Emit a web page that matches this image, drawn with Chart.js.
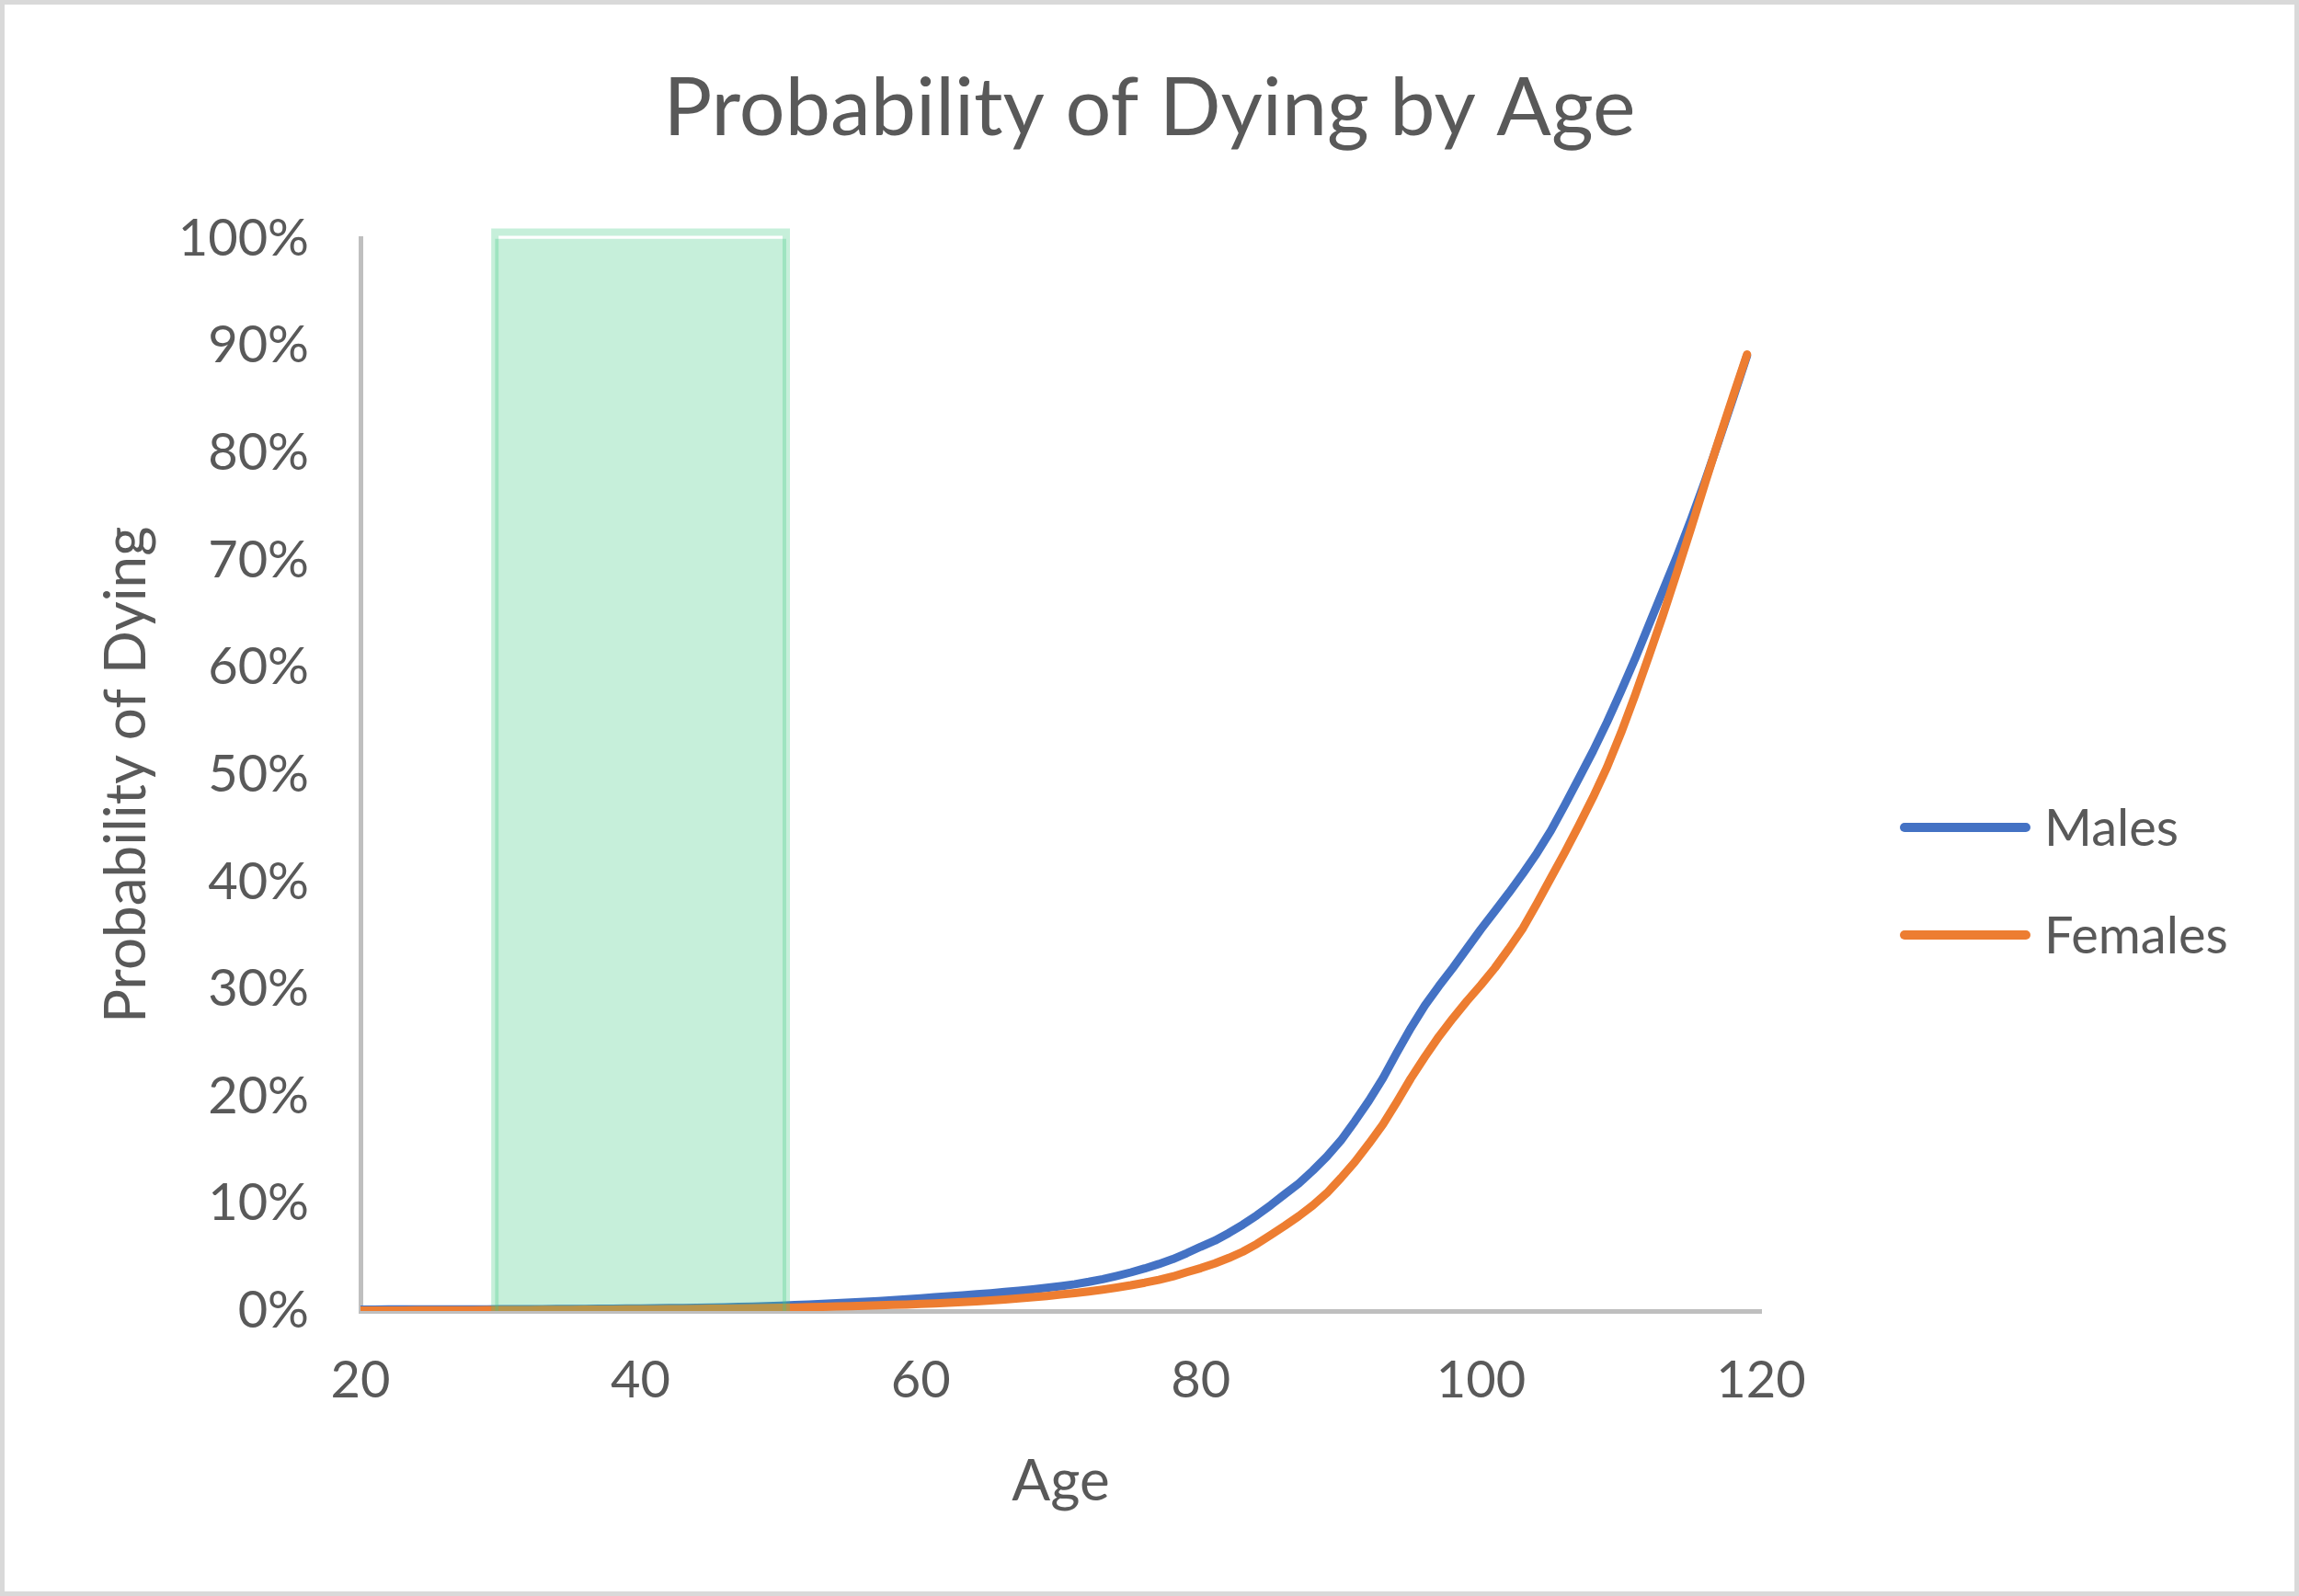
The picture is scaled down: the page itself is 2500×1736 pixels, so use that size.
<!DOCTYPE html>
<html>
<head>
<meta charset="utf-8">
<title>Probability of Dying by Age</title>
<script src="https://cdn.jsdelivr.net/npm/chart.js@4.4.1/dist/chart.umd.min.js"></script>
<style>
    html, body { margin: 0; padding: 0; background: #ffffff; }
    #chart { display: block; }
</style>
</head>
<body>
<canvas id="chart" width="2500" height="1736"></canvas>
<script>
/* ── Data (probability of dying within the year, %) ─────────────────── */
const ages = [
    20, 21, 22, 23, 24, 25, 26, 27, 28, 29,
    30, 31, 32, 33, 34, 35, 36, 37, 38, 39,
    40, 41, 42, 43, 44, 45, 46, 47, 48, 49,
    50, 51, 52, 53, 54, 55, 56, 57, 58, 59,
    60, 61, 62, 63, 64, 65, 66, 67, 68, 69,
    70, 71, 72, 73, 74, 75, 76, 77, 78, 79,
    80, 81, 82, 83, 84, 85, 86, 87, 88, 89,
    90, 91, 92, 93, 94, 95, 96, 97, 98, 99,
    100, 101, 102, 103, 104, 105, 106, 107, 108, 109,
    110, 111, 112, 113, 114, 115, 116, 117, 118, 119,
];

const males = [
    0.12, 0.13, 0.14, 0.14, 0.15, 0.15, 0.15, 0.16, 0.16, 0.16,
    0.17, 0.17, 0.18, 0.18, 0.19, 0.20, 0.20, 0.21, 0.22, 0.23,
    0.24, 0.25, 0.27, 0.28, 0.30, 0.32, 0.35, 0.38, 0.41, 0.45,
    0.50, 0.55, 0.60, 0.66, 0.72, 0.79, 0.86, 0.93, 1.01, 1.10,
    1.19, 1.28, 1.37, 1.46, 1.56, 1.66, 1.77, 1.89, 2.02, 2.16,
    2.32, 2.50, 2.72, 2.97, 3.27, 3.60, 3.97, 4.38, 4.84, 5.40,
    6.00, 6.56, 7.27, 8.05, 8.92, 9.88, 10.9, 11.9, 13.1, 14.4,
    15.9, 17.7, 19.6, 21.7, 24.1, 26.4, 28.5, 30.3, 32.0, 33.8,
    35.6, 37.3, 39.0, 40.8, 42.7, 44.8, 47.2, 49.7, 52.2, 54.9,
    57.8, 60.8, 64.0, 67.2, 70.4, 73.8, 77.4, 81.2, 85.1, 89.1,
];

const females = [
    0.05, 0.05, 0.05, 0.05, 0.06, 0.06, 0.06, 0.07, 0.07, 0.08,
    0.08, 0.09, 0.09, 0.10, 0.10, 0.11, 0.12, 0.12, 0.13, 0.14,
    0.15, 0.16, 0.17, 0.18, 0.19, 0.21, 0.22, 0.24, 0.26, 0.28,
    0.30, 0.33, 0.36, 0.39, 0.42, 0.46, 0.49, 0.53, 0.57, 0.61,
    0.66, 0.71, 0.77, 0.83, 0.90, 0.98, 1.07, 1.17, 1.28, 1.40,
    1.54, 1.68, 1.83, 2.00, 2.19, 2.40, 2.64, 2.91, 3.22, 3.62,
    4.00, 4.44, 4.95, 5.53, 6.25, 7.10, 7.95, 8.85, 9.85, 11.0,
    12.4, 13.9, 15.6, 17.4, 19.5, 21.7, 23.7, 25.6, 27.3, 28.9,
    30.4, 32.0, 33.8, 35.7, 38.0, 40.4, 42.8, 45.3, 47.9, 50.7,
    53.9, 57.4, 61.1, 64.9, 68.9, 73.0, 77.2, 81.3, 85.3, 89.2,
];

// highlighted age band (shaded box), outline corners
const bandAges = [29.6, 29.6, 50.4, 50.4];
const bandValues = [0, 100.6, 100.6, 0];

const xTicks = [20, 40, 60, 80, 100, 120];
const yTicks = [0, 10, 20, 30, 40, 50, 60, 70, 80, 90, 100];

/* ── Theme ───────────────────────────────────────────────────────────── */
const TEXT = '#595959';
const AXIS = '#bfbfbf';
Chart.defaults.font.family = "'Lato', 'Open Sans', sans-serif";
Chart.defaults.color = TEXT;

const toPoints = (xs, ys) => xs.map((x, i) => ({ x, y: ys[i] }));

/* ── Plugins ─────────────────────────────────────────────────────────── */
const frame = {
    id: 'frame',
    beforeDraw(chart) {
        const { ctx, width, height } = chart;
        ctx.save();
        ctx.fillStyle = '#ffffff';
        ctx.fillRect(0, 0, width, height);
        ctx.strokeStyle = '#d9d9d9';
        ctx.lineWidth = 5;
        ctx.strokeRect(2.5, 2.5, width - 5, height - 5);
        ctx.restore();
    },
};

// legend on the right: line swatch + label, for the two series only
const sideLegend = {
    id: 'sideLegend',
    afterDraw(chart) {
        const { ctx, chartArea } = chart;
        const items = chart.data.datasets.filter(d => d.inLegend);
        const x0 = chartArea.right + 151;
        const y0 = 900;
        ctx.save();
        ctx.font = "56px 'Lato', 'Open Sans', sans-serif";
        ctx.textBaseline = 'middle';
        ctx.lineCap = 'round';
        items.forEach((d, i) => {
            const y = y0 + i * 117;
            ctx.strokeStyle = d.borderColor;
            ctx.lineWidth = 10;
            ctx.beginPath();
            ctx.moveTo(x0 + 5, y);
            ctx.lineTo(x0 + 137, y);
            ctx.stroke();
            ctx.fillStyle = TEXT;
            ctx.fillText(d.label, x0 + 157, y + 2);
        });
        ctx.restore();
    },
};

/* ── Chart ───────────────────────────────────────────────────────────── */
new Chart(document.getElementById('chart'), {
    type: 'line',
    data: {
        datasets: [
            {
                label: 'Age band',
                data: toPoints(bandAges, bandValues),
                borderColor: 'rgba(65, 202, 132, 0.3)',
                backgroundColor: 'rgba(65, 202, 132, 0.3)',
                borderWidth: 8,
                fill: 'origin',
                pointRadius: 0,
                tension: 0,
                clip: false,
                order: 0,
            },
            {
                label: 'Males',
                inLegend: true,
                data: toPoints(ages, males),
                borderColor: '#4472c4',
                borderWidth: 9,
                borderCapStyle: 'round',
                borderJoinStyle: 'round',
                pointRadius: 0,
                tension: 0,
                order: 2,
            },
            {
                label: 'Females',
                inLegend: true,
                data: toPoints(ages, females),
                borderColor: '#ed7d31',
                borderWidth: 9,
                borderCapStyle: 'round',
                borderJoinStyle: 'round',
                pointRadius: 0,
                tension: 0,
                order: 1,
            },
        ],
    },
    options: {
        responsive: false,
        animation: false,
        devicePixelRatio: 1,
        layout: { padding: 0 },
        scales: {
            x: {
                type: 'linear',
                min: xTicks[0],
                max: xTicks[xTicks.length - 1],
                afterBuildTicks: axis => { axis.ticks = xTicks.map(v => ({ value: v })); },
                afterFit: axis => { axis.height = 310; },
                grid: { display: false, drawTicks: false },
                border: { display: true, color: AXIS, width: 5 },
                ticks: {
                    padding: 42,
                    color: TEXT,
                    font: { size: 56 },
                },
                title: {
                    display: true,
                    text: 'Age',
                    color: TEXT,
                    font: { size: 62 },
                    padding: { top: 0, bottom: 87 },
                },
            },
            y: {
                type: 'linear',
                min: yTicks[0],
                max: yTicks[yTicks.length - 1],
                afterBuildTicks: axis => { axis.ticks = yTicks.map(v => ({ value: v })); },
                afterFit: axis => { axis.width = 392; },
                grid: { display: false, drawTicks: false },
                border: { display: true, color: AXIS, width: 5 },
                ticks: {
                    padding: 56,
                    color: TEXT,
                    font: { size: 56 },
                    callback: v => v + '%',
                },
                title: {
                    display: true,
                    text: 'Probability of Dying',
                    color: TEXT,
                    font: { size: 62 },
                    padding: { top: 101, bottom: 0 },
                },
            },
            // empty right-hand axis that reserves room for the legend
            side: {
                type: 'linear',
                position: 'right',
                min: 0,
                max: 1,
                afterFit: axis => { axis.width = 585; },
                grid: { display: false, drawTicks: false },
                border: { display: false },
                ticks: { display: false },
            },
        },
        plugins: {
            title: {
                display: true,
                text: 'Probability of Dying by Age',
                color: TEXT,
                font: { size: 88, weight: 'normal' },
                padding: { top: 66, bottom: 88 },
            },
            legend: { display: false },
            tooltip: { enabled: false },
        },
    },
    plugins: [frame, sideLegend],
});
</script>
</body>
</html>
